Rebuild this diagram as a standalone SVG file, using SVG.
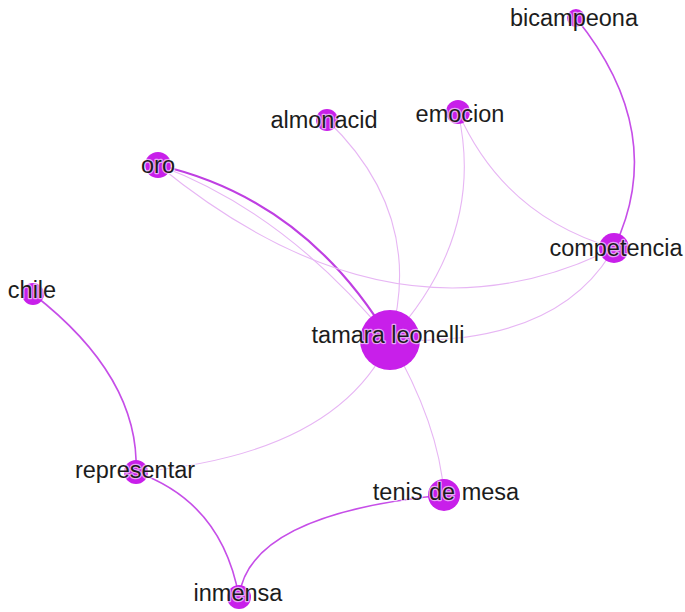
<svg xmlns="http://www.w3.org/2000/svg" width="685" height="612" viewBox="0 0 685 612">
<style>
.bg{fill:#ffffff}
.e{fill:none;stroke-linecap:round}
.strong{stroke:#c64ee8;stroke-width:1.6}
.thick{stroke:#bf3fe2;stroke-width:2.2}
.light{stroke:#e7b6f4;stroke-width:1.1}
.n{fill:#c81fea}
.l{font-family:"Liberation Sans",Arial,sans-serif;font-size:23.5px;fill:#1c1c1c;text-anchor:middle;stroke:#ffffff;stroke-opacity:0.6;stroke-width:2.4;paint-order:stroke;stroke-linejoin:round}
</style>
<rect class="bg" x="0" y="0" width="685" height="612"/>
<g id="connectors">
  <path class="e strong" d="M576,18 Q669,133 614,248"/>
  <path class="e light" d="M458,112 Q504,216 614,248"/>
  <path class="e light" d="M458,112 Q486,235 390,340"/>
  <path class="e light" d="M327,120 Q426,215 390,340"/>
  <path class="e thick" d="M158,165 Q306,199 390,340"/>
  <path class="e light" d="M158,165 Q286,212 390,340"/>
  <path class="e light" d="M158,165 Q394,358 614,248"/>
  <path class="e light" d="M614,248 Q558,347 390,340"/>
  <path class="e light" d="M390,340 Q337,455 136,472"/>
  <path class="e light" d="M390,340 Q439,424 444,495"/>
  <path class="e strong" d="M33,294 Q140,377 136,472"/>
  <path class="e strong" d="M136,472 Q222,502 239,597"/>
  <path class="e strong" d="M239,597 Q249,514 444,495"/>
</g>
<g id="node-bicampeona"><circle class="n" cx="576" cy="18" r="9"/><text class="l" x="574" y="26">bicampeona</text></g>
<g id="node-almonacid"><circle class="n" cx="327" cy="120" r="11"/><text class="l" x="324" y="128">almonacid</text></g>
<g id="node-emocion"><circle class="n" cx="458" cy="112" r="12"/><text class="l" x="460" y="122">emocion</text></g>
<g id="node-oro"><circle class="n" cx="158" cy="165" r="13"/><text class="l" x="158" y="173">oro</text></g>
<g id="node-competencia"><circle class="n" cx="614" cy="248" r="15"/><text class="l" x="616" y="256">competencia</text></g>
<g id="node-chile"><circle class="n" cx="33" cy="294" r="11"/><text class="l" x="32" y="298">chile</text></g>
<g id="node-tamara-leonelli"><circle class="n" cx="390" cy="340" r="30"/><text class="l" x="388" y="343">tamara leonelli</text></g>
<g id="node-representar"><circle class="n" cx="136" cy="472" r="12"/><text class="l" x="135" y="478">representar</text></g>
<g id="node-tenis-de-mesa"><circle class="n" cx="444" cy="495" r="16"/><text class="l" x="446" y="500">tenis de mesa</text></g>
<g id="node-inmensa"><circle class="n" cx="239" cy="597" r="12"/><text class="l" x="238" y="601">inmensa</text></g>
</svg>
